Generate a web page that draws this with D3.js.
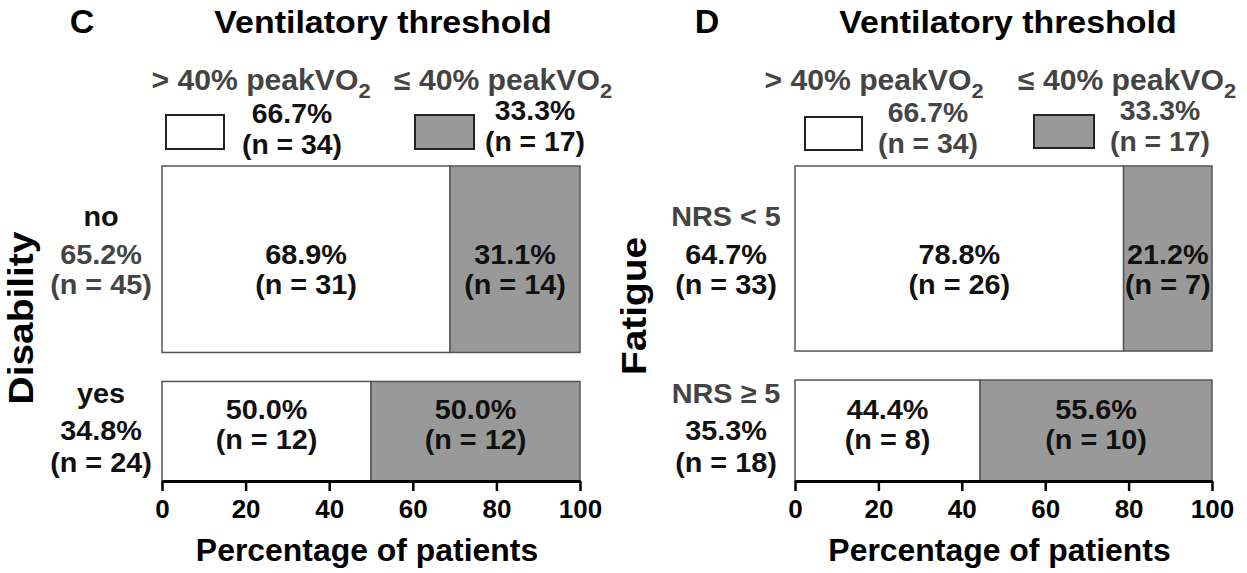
<!DOCTYPE html>
<html>
<head>
<meta charset="utf-8">
<script src="https://cdn.jsdelivr.net/npm/d3@7"></script>
<style>
  html, body { margin: 0; padding: 0; background: #fff; }
  svg text { font-family: "Liberation Sans", Arial, Helvetica, sans-serif; font-weight: bold; }
</style>
</head>
<body>
<svg id="chart" width="1247" height="573"></svg>
<script>
// ---- data ----
const panelLetters = ["C", "D"];
const panelTitle = "Ventilatory threshold";
const rowVarNames = ["Disability", "Fatigue"];

const thresholdLabels = ["> 40% peakVO", "≤ 40% peakVO"];
const thresholdPct = [66.7, 33.3];
const thresholdN = [34, 17];

// panel C: disability
const rowLabelsC = ["no", "yes"];
const rowPctC = [65.2, 34.8];
const rowNC = [45, 24];
const cellPctC = [[68.9, 31.1], [50.0, 50.0]];
const cellNC = [[31, 14], [12, 12]];

// panel D: fatigue
const rowLabelsD = ["NRS < 5", "NRS ≥ 5"];
const rowPctD = [64.7, 35.3];
const rowND = [33, 18];
const cellPctD = [[78.8, 21.2], [44.4, 55.6]];
const cellND = [[26, 7], [8, 10]];

const xTicks = [0, 20, 40, 60, 80, 100];
const axisTitle = "Percentage of patients";

const fills = ["#ffffff", "#999999"];
const dark = "#111", grey = "#444";

// ---- layout ----
const panels = [
  {
    letter: panelLetters[0], varName: rowVarNames[0],
    rowLabels: rowLabelsC, rowPct: rowPctC, rowN: rowNC, cellPct: cellPctC, cellN: cellNC,
    xRange: [162, 580], letterX: 82, titleX: 383, varX: 33, varY: 318, rowX: 101,
    legLabelX: [261, 503], legBox: [[166, 115, 58, 34], [415, 115, 59, 34]],
    legTextX: [292, 535], legTextY: [[123, 154], [120, 151]], legColor: dark,
    rowColors: [[dark, grey, grey], [dark, dark, dark]]
  },
  {
    letter: panelLetters[1], varName: rowVarNames[1],
    rowLabels: rowLabelsD, rowPct: rowPctD, rowN: rowND, cellPct: cellPctD, cellN: cellND,
    xRange: [795, 1212], letterX: 707, titleX: 1008, varX: 646, varY: 306, rowX: 726,
    legLabelX: [874, 1127], legBox: [[805, 117, 57, 33], [1034, 115, 60, 33]],
    legTextX: [928, 1160], legTextY: [[122, 153], [120, 151]], legColor: grey,
    rowColors: [[grey, dark, dark], [grey, dark, dark]]
  }
];

const svg = d3.select("#chart");
const yTop = 166, yBottom = 481, gap = 29;
const y = d3.scaleLinear().domain([0, 100]).range([yTop, yBottom - gap]);

// 原图字体比 Liberation 略宽一点，用 scaleX 拉一下
function label(g, x, yy, str, size, color, sx = 1.03) {
  return g.append("text")
    .attr("transform", `translate(${x},${yy}) scale(${sx},1)`)
    .attr("text-anchor", "middle")
    .attr("font-size", size)
    .attr("fill", color)
    .text(str);
}

panels.forEach(p => {
  const g = svg.append("g");
  const x = d3.scaleLinear().domain([0, 100]).range(p.xRange);
  const xMid = (p.xRange[0] + p.xRange[1]) / 2;

  // 面板字母和标题
  label(g, p.letterX, 33, p.letter, 34, "#000", 1.0);
  label(g, p.titleX, 33, panelTitle, 32, "#000", 1.06);

  // 图例
  thresholdLabels.forEach((lab, k) => {
    const t = label(g, p.legLabelX[k], 90, null, 29, grey, 1.04);
    t.append("tspan").text(lab);
    t.append("tspan").attr("font-size", 21).attr("dy", 8).text("2");

    const b = p.legBox[k];
    g.append("rect").attr("x", b[0]).attr("y", b[1]).attr("width", b[2]).attr("height", b[3])
      .attr("fill", fills[k]).attr("stroke", "#222").attr("stroke-width", 2);

    label(g, p.legTextX[k], p.legTextY[k][0], thresholdPct[k].toFixed(1) + "%", 27, p.legColor, 1.05);
    label(g, p.legTextX[k], p.legTextY[k][1], "(n = " + thresholdN[k] + ")", 27, p.legColor, 1.05);
  });

  // 马赛克矩形
  let cum = 0;
  p.rowPct.forEach((rp, i) => {
    const y0 = y(cum) + i * gap;
    const y1 = y(cum + rp) + i * gap;
    cum += rp;
    const yc = (y0 + y1) / 2;

    let cx = 0;
    p.cellPct[i].forEach((cp, j) => {
      const x0 = x(cx), x1 = x(cx + cp);
      cx += cp;
      g.append("rect").attr("x", x0).attr("y", y0)
        .attr("width", x1 - x0).attr("height", y1 - y0)
        .attr("fill", fills[j]).attr("stroke", "#555").attr("stroke-width", 1.5);
      const tx = (x0 + x1) / 2;
      const off = i === 0 ? [5, 35] : [-12, 18];
      label(g, tx, yc + off[0], cp.toFixed(1) + "%", 28, dark);
      label(g, tx, yc + off[1], "(n = " + p.cellN[i][j] + ")", 28, dark);
    });

    // 左侧行标签
    const lines = [p.rowLabels[i], rp.toFixed(1) + "%", "(n = " + p.rowN[i] + ")"];
    const base = i === 0 ? [yc - 33, yc + 5, yc + 35] : [yc - 28, yc + 9, yc + 41];
    lines.forEach((s, k) => label(g, p.rowX, base[k], s, 28, p.rowColors[i][k]));
  });

  // 纵向变量名
  g.append("text")
    .attr("transform", `translate(${p.varX},${p.varY}) rotate(-90) scale(1.08,1)`)
    .attr("text-anchor", "middle").attr("font-size", 36).attr("fill", "#000")
    .text(p.varName);

  // x 轴
  const ax = g.append("g").attr("transform", `translate(0,${yBottom})`)
    .call(d3.axisBottom(x).tickValues(xTicks).tickSize(10).tickSizeOuter(0).tickPadding(9));
  ax.select(".domain").attr("stroke", "#000").attr("stroke-width", 3);
  ax.selectAll(".tick line").attr("stroke", "#000").attr("stroke-width", 2.5);
  ax.selectAll(".tick text").attr("font-size", 26).attr("fill", "#000")
    .attr("font-family", null);

  label(g, xMid - 4, 561, axisTitle, 31, "#000", 1.03);
});
</script>
</body>
</html>
